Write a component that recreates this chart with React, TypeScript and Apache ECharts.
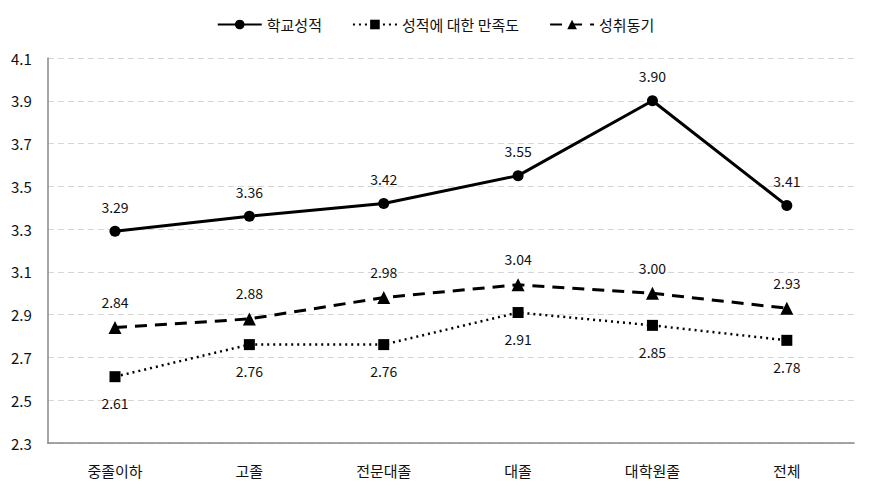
import React, { useEffect, useRef } from "react";
import * as echarts from "echarts";

const categories = ["중졸이하", "고졸", "전문대졸", "대졸", "대학원졸", "전체"];
const schoolGrades = [3.29, 3.36, 3.42, 3.55, 3.9, 3.41];
const satisfaction = [2.61, 2.76, 2.76, 2.91, 2.85, 2.78];
const motivation = [2.84, 2.88, 2.98, 3.04, 3.0, 2.93];
const seriesNames = ["학교성적", "성적에 대한 만족도", "성취동기"];

const FONT = "'Malgun Gothic', 'Noto Sans CJK KR', sans-serif";

export default function App() {
  const ref = useRef<HTMLDivElement>(null);
  useEffect(() => {
    if (!ref.current) return;
    const chart = echarts.init(ref.current, undefined, { renderer: "svg" });
    const label = (pos: string, dist: number) => ({
      show: true,
      position: pos,
      distance: dist,
      formatter: (p: any) => Number(p.value).toFixed(2),
      color: "#111",
      fontSize: 14,
      fontFamily: FONT,
    });
    chart.setOption({
      animation: false,
      backgroundColor: "#fff",
      textStyle: { fontFamily: FONT },
      legend: {
        top: 4,
        left: "center",
        itemWidth: 44,
        itemHeight: 12,
        itemGap: 30,
        textStyle: { fontSize: 15, color: "#111", fontFamily: FONT },
        data: seriesNames,
      },
      grid: { left: 38, right: 9, top: 50, bottom: 43 },
      xAxis: {
        type: "category",
        data: categories,
        boundaryGap: true,
        axisLine: { lineStyle: { color: "#888", width: 1.5 } },
        axisTick: { show: false },
        axisLabel: { fontSize: 15, color: "#111", margin: 20, fontFamily: FONT },
      },
      yAxis: {
        type: "value",
        min: 2.3,
        max: 4.1,
        interval: 0.2,
        axisLine: { show: true, lineStyle: { color: "#888", width: 1.5 } },
        axisTick: { show: false },
        axisLabel: {
          fontSize: 15,
          color: "#111",
          margin: 16,
          fontFamily: FONT,
          formatter: (v: number) => v.toFixed(1),
        },
        splitLine: { lineStyle: { color: "#d4d4d4", type: [6, 4], width: 1 } },
      },
      series: [
        {
          name: seriesNames[0],
          type: "line",
          data: schoolGrades,
          symbol: "circle",
          symbolSize: 11,
          itemStyle: { color: "#000" },
          lineStyle: { color: "#000", width: 3 },
          label: label("top", 12),
        },
        {
          name: seriesNames[1],
          type: "line",
          data: satisfaction,
          symbol: "rect",
          symbolSize: 11,
          itemStyle: { color: "#000" },
          lineStyle: { color: "#000", width: 2.5, type: [2, 4] },
          label: label("bottom", 14),
        },
        {
          name: seriesNames[2],
          type: "line",
          data: motivation,
          symbol: "triangle",
          symbolSize: 13,
          itemStyle: { color: "#000" },
          lineStyle: { color: "#000", width: 3, type: [12, 8] },
          label: label("top", 12),
        },
      ],
    });
    return () => chart.dispose();
  }, []);
  return <div ref={ref} style={{ width: 855, height: 478 }} />;
}
